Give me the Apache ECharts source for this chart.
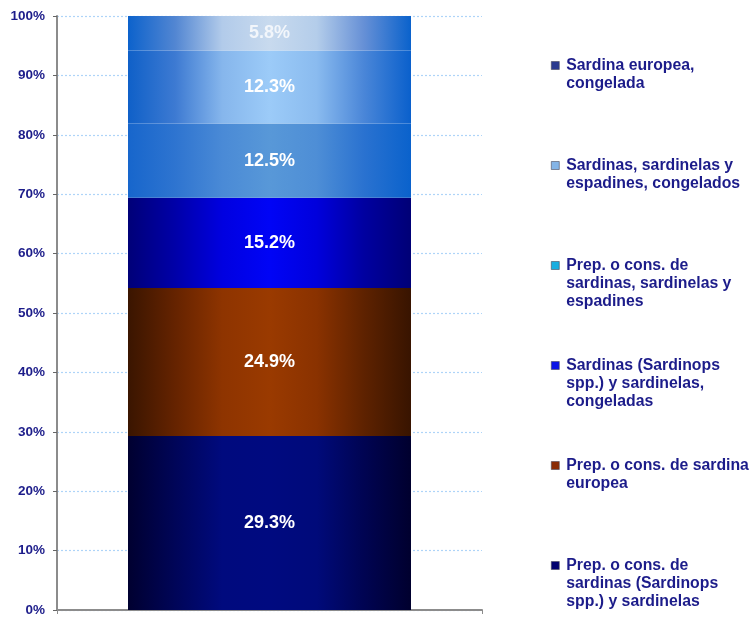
<!DOCTYPE html>
<html>
<head>
<meta charset="utf-8">
<script src="https://cdn.jsdelivr.net/npm/echarts@6/dist/echarts.min.js"></script>
<style>
  html, body { margin: 0; padding: 0; background: #ffffff; }
  #chart { width: 752px; height: 617px; }
</style>
</head>
<body>
<div id="chart"></div>
<script>
// Single stacked 100% column, bottom segment first
const categories = [''];

const seriesNames = [
  'Prep. o cons. de\nsardinas (Sardinops\nspp.) y sardinelas',
  'Prep. o cons. de sardina\neuropea',
  'Sardinas (Sardinops\nspp.) y sardinelas,\ncongeladas',
  'Prep. o cons. de\nsardinas, sardinelas y\nespadines',
  'Sardinas, sardinelas y\nespadines, congelados',
  'Sardina europea,\ncongelada'
];

const seriesValues = [
  [29.3],
  [24.9],
  [15.2],
  [12.5],
  [12.3],
  [5.8]
];

const yTicks = [0, 10, 20, 30, 40, 50, 60, 70, 80, 90, 100];

// Horizontal shading of each segment, left edge to right edge
const segmentShades = [
  ['#000030', '#000558', '#000a7e', '#000a80', '#000a7a', '#000452', '#00002e'],
  ['#3a1500', '#652300', '#8e3400', '#9a3a00', '#8a3200', '#5e2200', '#381400'],
  ['#000078', '#0000a8', '#0000e0', '#0004f6', '#0000dc', '#0000a0', '#000076'],
  ['#1766cc', '#2e74d0', '#4a8ad6', '#5898d8', '#4e8ed6', '#2a72d0', '#0a62cc'],
  ['#0f60c8', '#3d7ad2', '#86b6ec', '#9ccbf8', '#8abbef', '#4a86d8', '#0a60cc'],
  ['#0c62cc', '#5286d2', '#b2cbea', '#c8daee', '#b4cdea', '#6690d6', '#0a62cc']
];

// Legend swatch colours
const swatchColors = ['#00006e', '#8a2c06', '#0a14e6', '#1aaee0', '#84b4e6', '#2b3a8f'];

const FONT = 'Arial, "Liberation Sans", sans-serif';
const NAVY = '#1c1c8a';

function shade(stops) {
  return new echarts.graphic.LinearGradient(0, 0, 1, 0,
    stops.map((c, j) => ({ offset: j / (stops.length - 1), color: c })));
}

const series = seriesNames.map((name, i) => ({
  name: name,
  type: 'bar',
  stack: 'total',
  barWidth: 283,
  data: seriesValues[i],
  itemStyle: { color: shade(segmentShades[i]) },
  label: {
    show: true,
    position: 'inside',
    formatter: '{c}%',
    color: i === 5 ? '#f2f6fb' : '#ffffff',
    fontFamily: FONT,
    fontWeight: 'bold',
    fontSize: 18
  },
  emphasis: { disabled: true },
  silent: true
}));

// One legend block per series, listed top-down; the swatch sits beside the
// first line, so blank lines are put ahead of the name to balance the block
const LINE_H = 18;
const legends = [];
for (let k = 0; k < 6; k++) {
  const idx = 5 - k;
  const lines = seriesNames[idx].split('\n').length;
  const centerY = 65.5 + 100 * k;
  legends.push({
    orient: 'vertical',
    left: 551,
    top: centerY - (2 * lines - 1) * LINE_H / 2,
    padding: 0,
    itemWidth: 8,
    itemHeight: 8,
    selectedMode: false,
    formatter: function (name) {
      return ' \n'.repeat(lines - 1) + name;
    },
    data: [{
      name: seriesNames[idx],
      icon: 'rect',
      itemStyle: { color: swatchColors[idx], borderColor: '#4a4a5a', borderWidth: 0.6 }
    }],
    textStyle: {
      color: NAVY,
      fontFamily: FONT,
      fontWeight: 'bold',
      fontSize: 15.8,
      lineHeight: LINE_H,
      padding: [0, 0, 0, 2]
    }
  });
}

const chart = echarts.init(document.getElementById('chart'), null, { renderer: 'canvas' });
chart.setOption({
  animation: false,
  backgroundColor: '#ffffff',
  grid: { left: 57, right: 270, top: 16, bottom: 7, containLabel: false },
  legend: legends,
  xAxis: {
    type: 'category',
    data: categories,
    axisLine: { lineStyle: { color: '#8c8c8c', width: 2 } },
    axisTick: { show: true, length: 4, lineStyle: { color: '#8c8c8c' } },
    axisLabel: { show: false }
  },
  yAxis: {
    type: 'value',
    min: yTicks[0],
    max: yTicks[yTicks.length - 1],
    interval: yTicks[1] - yTicks[0],
    axisLine: { show: true, lineStyle: { color: '#8c8c8c', width: 2 } },
    axisTick: { show: true, length: 4, lineStyle: { color: '#666666' } },
    axisLabel: {
      formatter: '{value}%',
      color: NAVY,
      fontFamily: FONT,
      fontWeight: 'bold',
      fontSize: 13.5,
      margin: 12
    },
    splitLine: {
      show: true,
      lineStyle: { color: '#aed4f8', width: 1.2, type: [2, 2] }
    }
  },
  series: series
});
</script>
</body>
</html>
